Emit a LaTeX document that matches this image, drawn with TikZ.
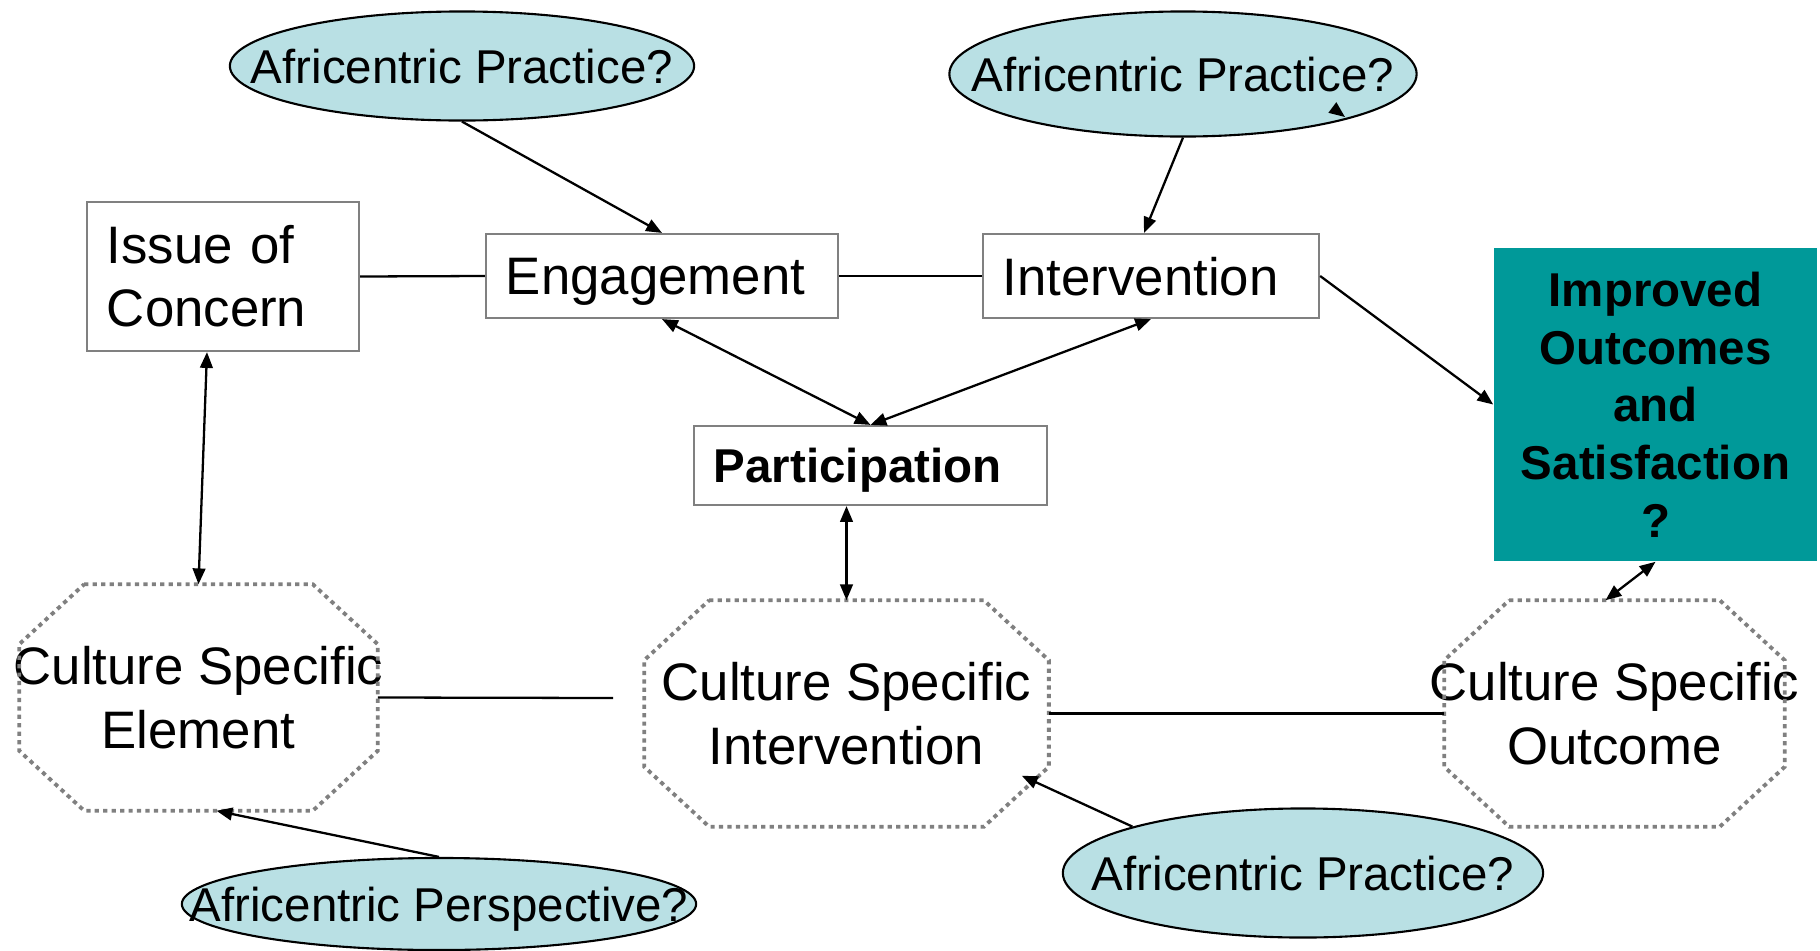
\documentclass[tikz,border=0pt]{standalone}
\usepackage{fontspec}
\setmainfont{Liberation Sans}
\usepackage{tikz}
\usetikzlibrary{shapes.geometric}
\usetikzlibrary{arrows.meta}
\usetikzlibrary{calc}

\definecolor{bubblefill}{RGB}{185,224,228}
\definecolor{outcometeal}{RGB}{0,153,153}
\definecolor{boxgray}{RGB}{128,128,128}

\begin{document}
\begin{tikzpicture}[x=0.01cm,y=-0.01cm,
        big/.style={font=\fontsize{15}{18}\selectfont},
        small/.style={font=\fontsize{13.5}{16.4}\selectfont},
        smallbold/.style={font=\fontsize{13.5}{16.4}\selectfont\bfseries},
        box/.style={draw=boxgray, line width=0.6pt, big, align=left, inner xsep=0.2cm, inner ysep=0pt},
        oneline/.style={text depth=0pt},
        bubble/.style={ellipse, draw, fill=bubblefill, line width=0.6pt, inner sep=0pt},
        bubbletext/.style={small, inner sep=0pt, text depth=0pt},
        octbox/.style={inner sep=0pt, minimum height=2.25cm},
        octtext/.style={big, align=center, inner sep=0pt},
        octline/.style={draw=boxgray, line width=1.1pt, dash pattern=on 1.2pt off 1.2pt},
        conn/.style={line width=0.65pt},
        arr/.style={conn, -{Triangle[length=4.5pt,width=3.6pt]}},
        biarr/.style={conn, {Triangle[length=4.5pt,width=3.6pt]}-{Triangle[length=4.5pt,width=3.6pt]}}]
    \useasboundingbox (0,0) rectangle (1820,951);

    \node[box, text width=2.32cm, minimum height=1.49cm] (issue) at (223,276.5) {Issue of\\Concern};
    \node[box, oneline, text width=3.12cm, minimum height=0.84cm] (engage) at (662,276) {Engagement};
    \node[box, oneline, text width=2.96cm, minimum height=0.84cm] (interv) at (1151,276) {Intervention};
    \node[box, oneline, smallbold, text width=3.13cm, minimum height=0.79cm] (part) at (870.5,465.5) {Participation};
    \node[fill=outcometeal, smallbold, align=center, inner sep=0pt, text width=3.23cm, minimum height=3.13cm] (outcome) at (1655.5,404.5)
        {Improved\\Outcomes\\and\\Satisfaction\\?};

    \node[bubble, minimum width=4.64cm, minimum height=1.09cm, label={[bubbletext]center:Africentric Practice?}] (practiceA) at (462,66) {};
    \node[bubble, minimum width=4.67cm, minimum height=1.25cm, label={[bubbletext]center:Africentric Practice?}] (practiceB) at (1183,74) {};
    \node[bubble, minimum width=5.14cm, minimum height=0.92cm, label={[bubbletext]center:Africentric Perspective?}] (perspective) at (439,904) {};
    \node[bubble, minimum width=4.80cm, minimum height=1.29cm, label={[bubbletext]center:Africentric Practice?}] (practiceC) at (1303,873) {};

    \node[octbox, minimum width=3.57cm, label={[octtext]center:Culture Specific\\Element}] (octL) at (198.5,697.5) {};
    \node[octbox, minimum width=4.03cm, label={[octtext]center:Culture Specific\\Intervention}] (octM) at (846.5,713.5) {};
    \node[octbox, minimum width=3.39cm, label={[octtext]center:Culture Specific\\Outcome}] (octR) at (1614.5,713.5) {};
    \foreach \o in {octL,octM,octR}
        \draw[octline] ([xshift=0.65cm]\o.north west) -- ([xshift=-0.65cm]\o.north east)
            -- ([yshift=-0.6cm]\o.north east) -- ([yshift=0.6cm]\o.south east)
            -- ([xshift=-0.65cm]\o.south east) -- ([xshift=0.65cm]\o.south west)
            -- ([yshift=0.6cm]\o.south west) -- ([yshift=-0.6cm]\o.north west) -- cycle;

    \coordinate (gapL) at (613,698);
    \coordinate (stubA) at (1333,108);
    \coordinate (stubB) at (1345,117);

    \draw[conn] (issue.east) -- (engage.west);
    \draw[conn] (engage.east) -- (interv.west);
    \draw[arr] (interv.east) -- (outcome.west);
    \draw[arr] (practiceA.south) -- (engage.north);
    \draw[arr] (practiceB.south) -- ([xshift=-0.07cm]interv.north);
    \draw[arr] (stubA) -- (stubB);
    \draw[biarr] (engage.south) -- (part.north);
    \draw[biarr] (interv.south) -- (part.north);
    \draw[biarr] ([xshift=-0.16cm]issue.south) -- (octL.north);
    \draw[biarr] (part.south -| octM.north) -- (octM.north);
    \draw[biarr] (outcome.south) -- ([xshift=-0.09cm]octR.north);
    \draw[conn] (octL.east) -- (gapL);
    \draw[conn] (octM.east) -- (octR.west);
    \draw[arr] (perspective.north) -- ([xshift=0.18cm]octL.south);
    \draw[arr] (practiceC.north west) -- ([xshift=-0.27cm,yshift=0.51cm]octM.south east);
\end{tikzpicture}
\end{document}
